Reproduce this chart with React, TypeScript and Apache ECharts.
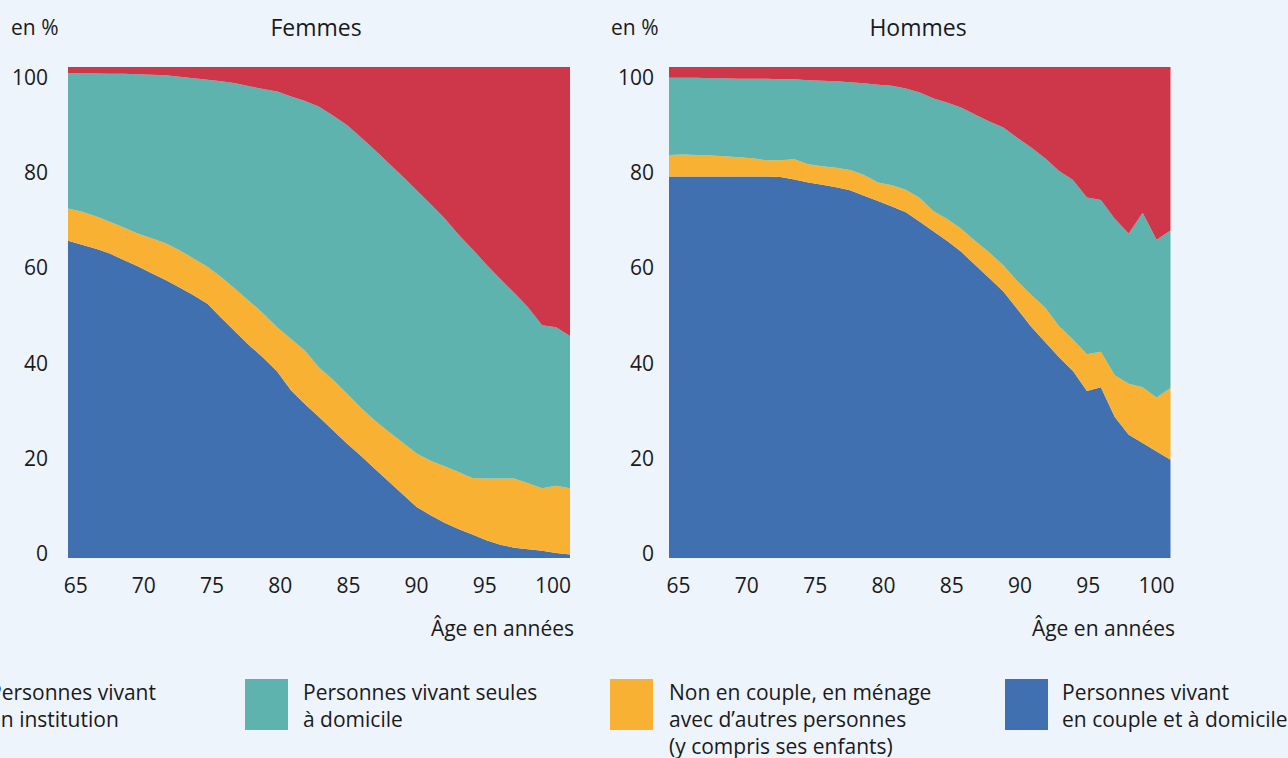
import React, { useEffect, useRef } from "react";
import * as echarts from "echarts";

const ages = [65, 66, 67, 68, 69, 70, 71, 72, 73, 74, 75, 76, 77, 78, 79, 80, 81, 82, 83, 84, 85, 86, 87, 88, 89, 90, 91, 92, 93, 94, 95, 96, 97, 98, 99, 100, 101];
const xTickLabels = [65, 70, 75, 80, 85, 90, 95, 100];
const yTickLabels = [0, 20, 40, 60, 80, 100];

const seriesNames = [
  "Personnes vivant en couple et à domicile",
  "Non en couple, en ménage avec d’autres personnes (y compris ses enfants)",
  "Personnes vivant seules à domicile",
  "Personnes vivant en institution",
];
const colors = ["#4170B0", "#F8B133", "#5EB3AE", "#CE3749"];

// Femmes
const femmesCouple = [64.6, 63.8, 63.0, 62.0, 60.7, 59.4, 58.0, 56.6, 55.1, 53.5, 51.8, 48.9, 46.1, 43.3, 40.8, 38.0, 34.1, 31.3, 28.7, 26.0, 23.3, 20.8, 18.2, 15.6, 13.0, 10.4, 8.7, 7.2, 5.9, 4.8, 3.6, 2.7, 2.1, 1.8, 1.5, 1.0, 0.7];
const femmesAutres = [6.6, 6.7, 6.6, 6.5, 6.6, 6.7, 7.1, 7.5, 7.6, 7.5, 7.5, 8.3, 8.7, 9.0, 9.0, 9.0, 10.5, 10.9, 10.1, 10.3, 10.2, 9.8, 9.8, 10.1, 10.5, 10.9, 11.1, 11.5, 11.6, 11.5, 12.6, 13.5, 14.1, 13.4, 12.7, 13.7, 13.5];
const femmesSeules = [27.6, 28.2, 29.1, 30.1, 31.3, 32.4, 33.3, 34.2, 35.3, 36.7, 38.1, 39.9, 41.9, 43.8, 45.7, 48.0, 49.4, 50.9, 53.1, 53.8, 54.7, 55.1, 55.1, 54.7, 54.2, 53.6, 52.3, 50.5, 48.4, 46.6, 43.6, 40.6, 37.8, 35.8, 33.2, 32.3, 31.0];
const femmesInstitution = [1.2, 1.3, 1.3, 1.4, 1.4, 1.5, 1.6, 1.7, 2.0, 2.3, 2.6, 2.9, 3.3, 3.9, 4.5, 5.0, 6.0, 6.9, 8.1, 9.9, 11.8, 14.3, 16.9, 19.6, 22.3, 25.1, 27.9, 30.8, 34.1, 37.1, 40.2, 43.2, 46.0, 49.0, 52.6, 53.0, 54.8];

// Hommes
const hommesCouple = [77.7, 77.7, 77.7, 77.7, 77.7, 77.7, 77.7, 77.7, 77.6, 77.1, 76.5, 76.0, 75.5, 74.9, 73.8, 72.7, 71.6, 70.4, 68.5, 66.5, 64.5, 62.3, 59.6, 57.0, 54.3, 50.7, 47.1, 44.0, 40.9, 38.1, 34.0, 34.8, 28.7, 25.1, 23.4, 21.7, 20.0];
const hommesAutres = [4.4, 4.5, 4.4, 4.3, 4.1, 3.9, 3.7, 3.3, 3.4, 4.1, 3.7, 3.8, 4.0, 4.1, 4.2, 3.8, 4.3, 4.6, 4.8, 4.1, 4.5, 4.7, 4.9, 5.2, 5.3, 5.7, 6.5, 7.0, 6.3, 6.4, 7.5, 7.2, 8.5, 10.4, 11.4, 11.0, 14.6];
const hommesSeules = [15.7, 15.6, 15.7, 15.7, 15.9, 16.0, 16.2, 16.6, 16.5, 16.3, 17.1, 17.4, 17.6, 17.9, 18.7, 19.9, 20.3, 20.6, 21.5, 23.0, 23.7, 24.7, 25.8, 26.7, 28.1, 29.2, 30.0, 30.4, 31.6, 32.5, 31.9, 30.9, 31.9, 30.6, 35.5, 32.1, 32.1];
const hommesInstitution = [2.2, 2.2, 2.2, 2.3, 2.3, 2.4, 2.4, 2.4, 2.5, 2.5, 2.7, 2.8, 2.9, 3.1, 3.3, 3.6, 3.8, 4.4, 5.2, 6.4, 7.3, 8.3, 9.7, 11.1, 12.3, 14.4, 16.4, 18.6, 21.2, 23.0, 26.6, 27.1, 30.9, 33.9, 29.7, 35.2, 33.3];

const FONT = "'Open Sans', 'Noto Sans', sans-serif";
const TXT = "#1a1a1a";

export default function App() {
  const ref = useRef<HTMLDivElement>(null);

  useEffect(() => {
    if (!ref.current) return;
    const chart = echarts.init(ref.current, undefined, { renderer: "svg" });

    const femmes = [femmesCouple, femmesAutres, femmesSeules, femmesInstitution];
    const hommes = [hommesCouple, hommesAutres, hommesSeules, hommesInstitution];

    const makeSeries = (sets: number[][], axisIndex: number, stack: string) =>
      sets.map((vals, i) => ({
        name: seriesNames[i],
        type: "line",
        stack,
        xAxisIndex: axisIndex,
        yAxisIndex: axisIndex,
        data: vals,
        symbol: "none",
        showSymbol: false,
        lineStyle: { width: 0, color: colors[i] },
        itemStyle: { color: colors[i] },
        areaStyle: { color: colors[i], opacity: 1 },
        silent: true,
      }));

    const dataX = (gridIndex: number) => ({
      gridIndex,
      type: "category",
      data: ages.map(String),
      boundaryGap: false,
      show: false,
    });
    const labelX = (gridIndex: number, min: number, max: number) => ({
      gridIndex,
      type: "value",
      min,
      max,
      position: "bottom",
      axisLine: { show: false },
      axisTick: { show: false },
      splitLine: { show: false },
      axisLabel: {
        customValues: xTickLabels,
        fontSize: 21,
        fontFamily: FONT,
        color: TXT,
        margin: 16,
        showMinLabel: true,
        showMaxLabel: true,
      },
    });
    const dataY = (gridIndex: number) => ({
      gridIndex,
      type: "value",
      min: 0,
      max: 100,
      show: false,
    });
    const labelY = (gridIndex: number, margin: number) => ({
      gridIndex,
      type: "value",
      min: -1.05,
      max: 102.1,
      position: "left",
      axisLine: { show: false },
      axisTick: { show: false },
      splitLine: { show: false },
      axisLabel: {
        customValues: yTickLabels,
        fontSize: 21,
        fontFamily: FONT,
        color: TXT,
        margin,
      },
    });

    const legendItems = [
      { x: null as number | null, tx: -11, lines: ["Personnes vivant", "en institution"], color: colors[3] },
      { x: 245, tx: 303, lines: ["Personnes vivant seules", "à domicile"], color: colors[2] },
      { x: 610, tx: 669, lines: ["Non en couple, en ménage", "avec d’autres personnes", "(y compris ses enfants)"], color: colors[1] },
      { x: 1005, tx: 1062, lines: ["Personnes vivant", "en couple et à domicile"], color: colors[0] },
    ];

    const graphics: any[] = [];
    const addText = (text: string, x: number, y: number, size: number, align: string) => {
      graphics.push({
        type: "text",
        x,
        y,
        style: {
          text,
          fontSize: size,
          fontFamily: FONT,
          fill: TXT,
          textAlign: align,
          textVerticalAlign: "middle",
        },
      });
    };
    addText("en %", 11, 27, 21, "left");
    addText("Femmes", 316, 27, 23, "center");
    addText("en %", 611, 27, 21, "left");
    addText("Hommes", 918, 27, 23, "center");
    addText("Âge en années", 574, 628, 21, "right");
    addText("Âge en années", 1175, 628, 21, "right");
    legendItems.forEach((it) => {
      if (it.x !== null) {
        graphics.push({
          type: "rect",
          shape: { x: it.x, y: 679, width: 43, height: 51 },
          style: { fill: it.color },
        });
      }
      it.lines.forEach((ln, k) => addText(ln, it.tx, 692 + k * 27, 21, "left"));
    });

    chart.setOption({
      animation: false,
      backgroundColor: "#EEF4FC",
      textStyle: { fontFamily: FONT },
      grid: [
        { left: 68, top: 67, width: 502, height: 491 },
        { left: 669, top: 67, width: 501.5, height: 491 },
      ],
      xAxis: [dataX(0), labelX(0, 64.44, 101.25), dataX(1), labelX(1, 64.3, 101.02)],
      yAxis: [dataY(0), labelY(0, 20), dataY(1), labelY(1, 15)],
      series: [
        ...makeSeries(femmes, 0, "femmes"),
        ...makeSeries(hommes, 2, "hommes"),
      ],
      graphic: graphics,
    });

    return () => chart.dispose();
  }, []);

  return (
    <div
      ref={ref}
      style={{ position: "absolute", left: 0, top: 0, width: 1288, height: 758 }}
    />
  );
}
